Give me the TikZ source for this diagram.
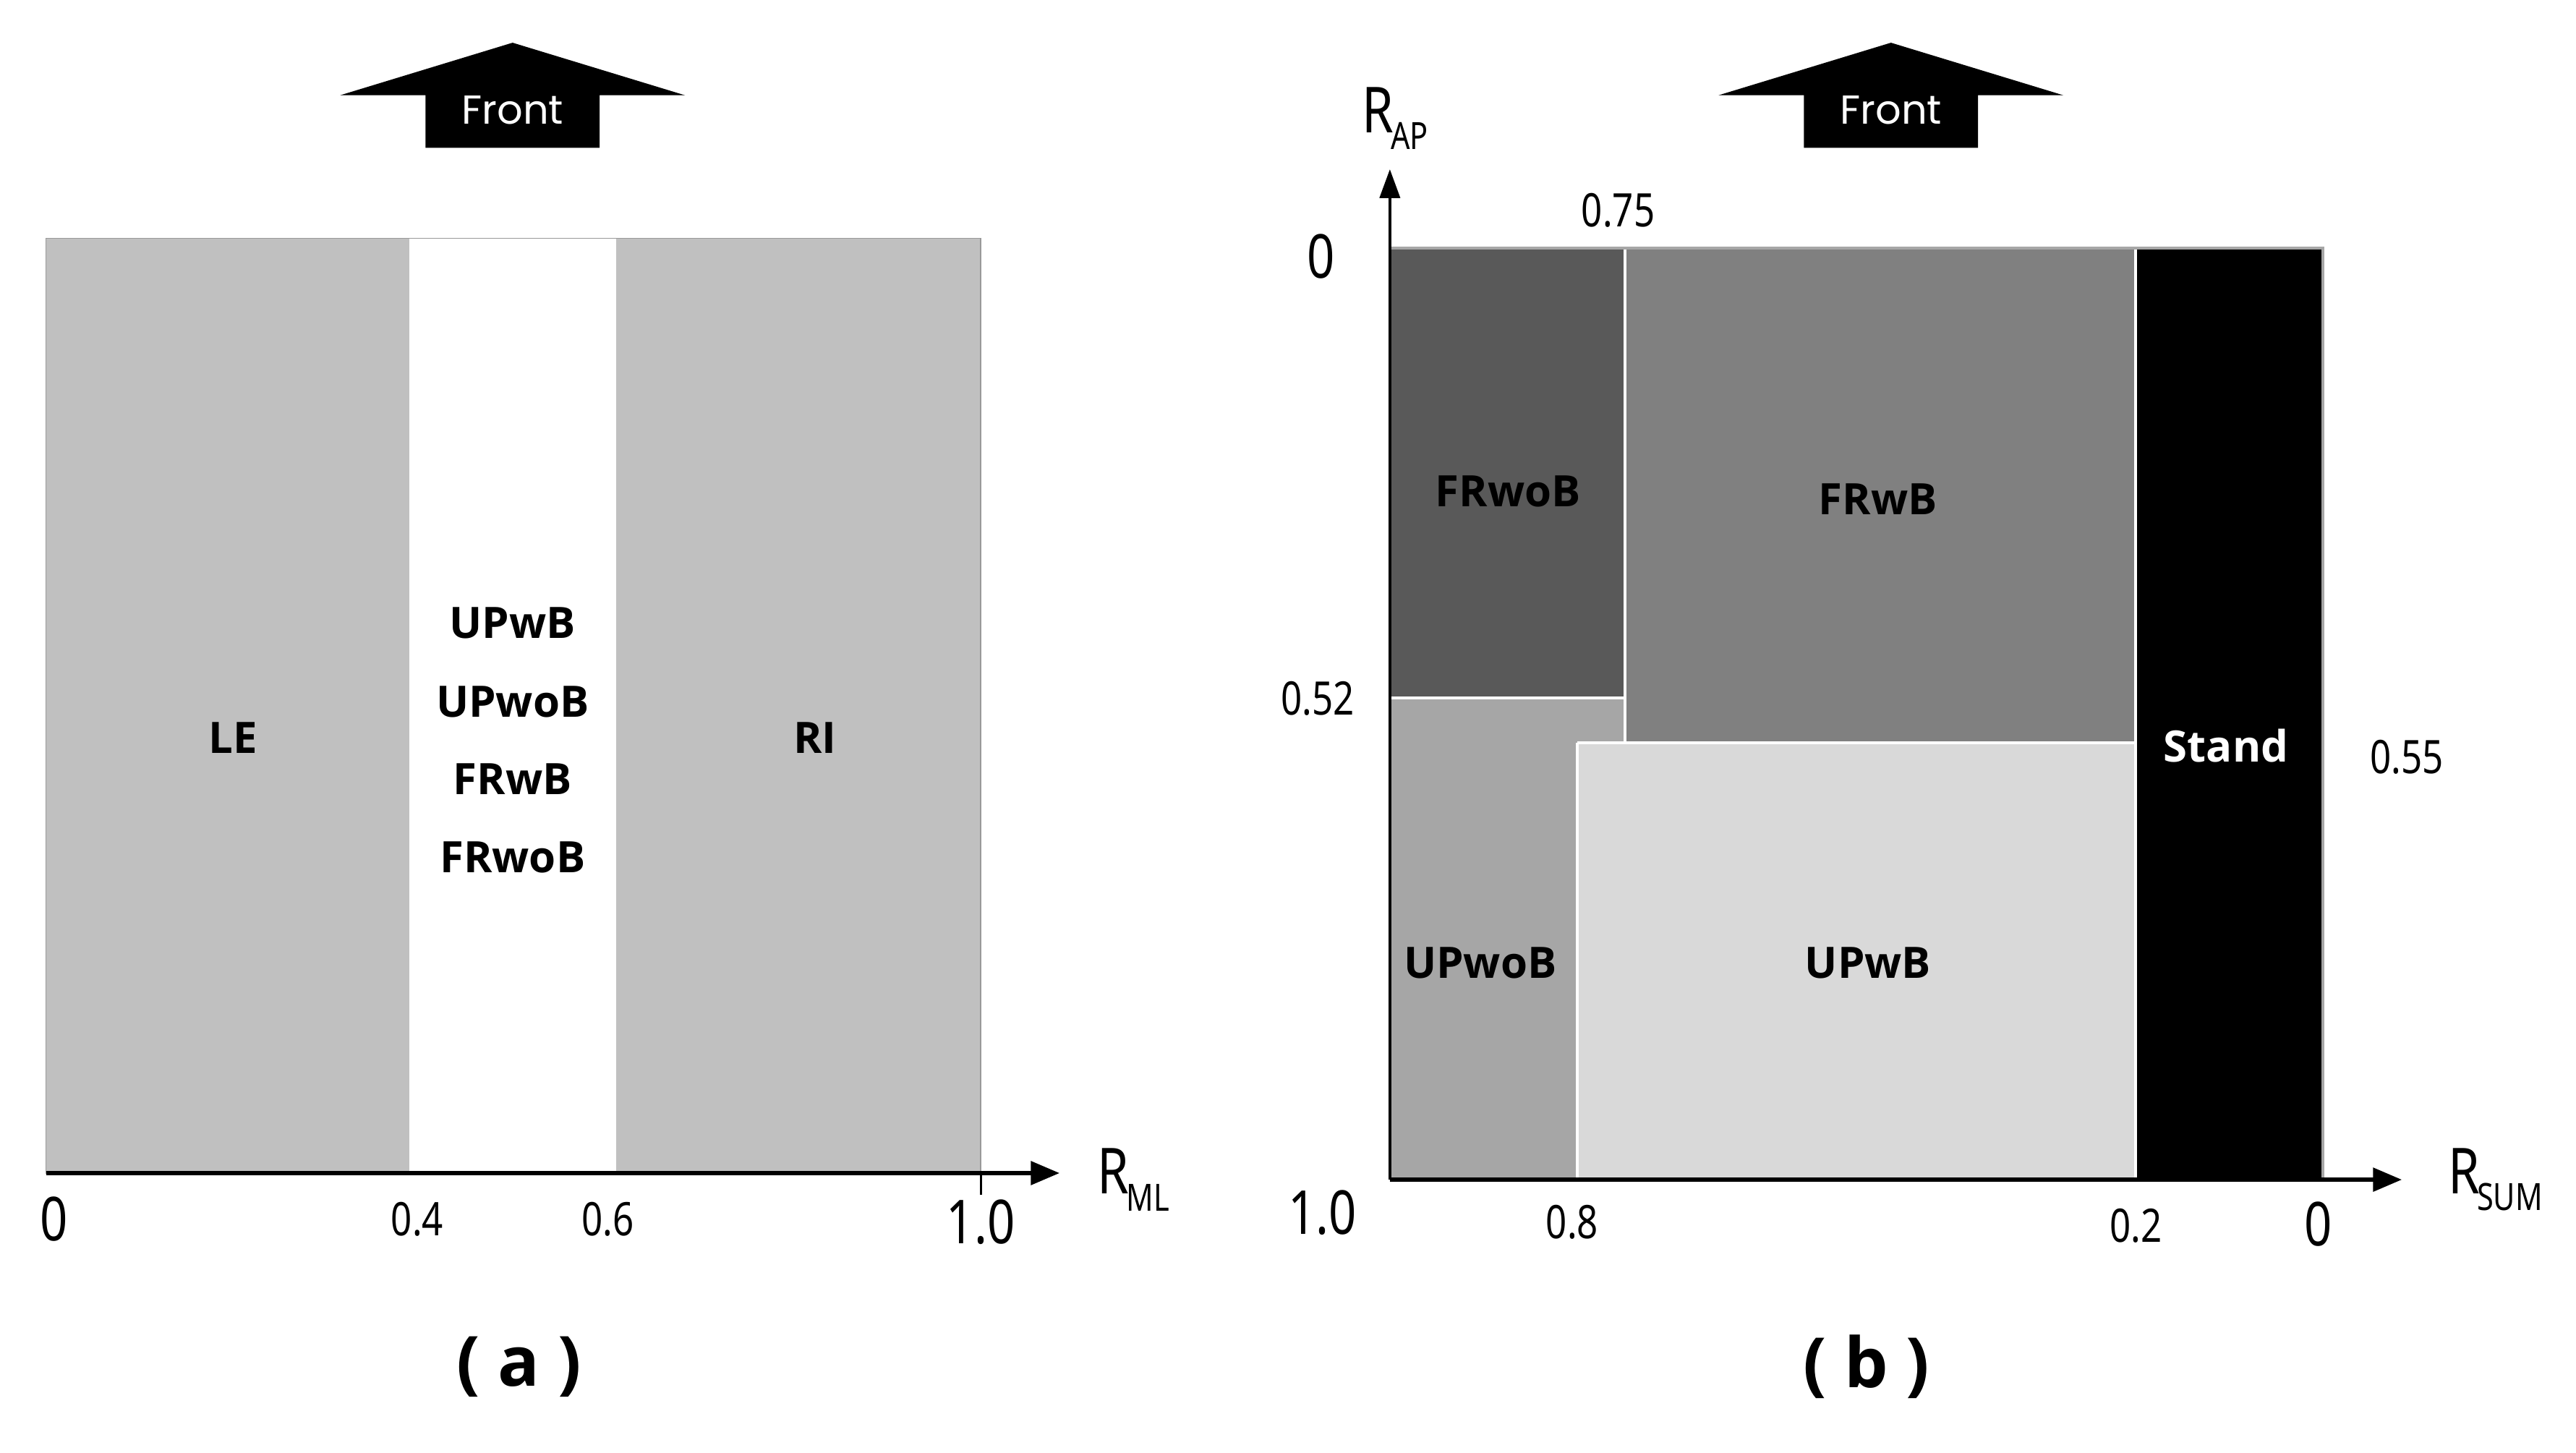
\documentclass[tikz,border=0pt]{standalone}
\usepackage{fontspec}
\setmainfont{Open Sans}
\newfontfamily\frontfont{Poppins}
\newfontfamily\numfont[FakeStretch=0.8]{Noto Sans}
\usepackage{xcolor}
\usetikzlibrary{arrows.meta}

\definecolor{sidegray}{HTML}{C0C0C0}
\definecolor{frwobgray}{HTML}{595959}
\definecolor{frwbgray}{HTML}{808080}
\definecolor{upwobgray}{HTML}{A6A6A6}
\definecolor{upwbgray}{HTML}{D9D9D9}

\begin{document}
\begin{tikzpicture}[x=0.02cm,y=-0.02cm,
    lbl/.style={font=\bfseries\fontsize{15}{15}\selectfont},
    num/.style={font=\numfont\fontsize{16}{16}\selectfont},
    bignum/.style={font=\numfont\fontsize{21}{21}\selectfont},
    axislbl/.style={font=\numfont\fontsize{22}{22}\selectfont, anchor=west},
    axis/.style={line width=1.6pt, -{Triangle[length=10pt,width=8pt]}},
    caption/.style={font=\bfseries\fontsize{24}{24}\selectfont}]
    \useasboundingbox (0,0) rectangle (1568,884);

    % Front arrows
    \foreach \cx/\nm in {312/fronta, 1151/frontb} {
        \fill[black] (\cx-105,58) -- (\cx,26) -- (\cx+105,58) -- (\cx+53,58)
            -- (\cx+53,90) -- (\cx-53,90) -- (\cx-53,58) -- cycle;
        \node[white, font=\frontfont\fontsize{14}{14}\selectfont] (\nm) at (\cx,67) {Front};
    }

    % Panel (a)
    \fill[sidegray] (28,145) rectangle (249,714);
    \fill[sidegray] (375,145) rectangle (597,714);
    \draw[gray!80] (28,145) rectangle (597,714);
    \node[lbl] (le) at (142,449) {LE};
    \node[lbl] (ri) at (496,449) {RI};
    \node[lbl] (mid1) at (312,379) {UPwB};
    \node[lbl] (mid2) at (312,427) {UPwoB};
    \node[lbl] (mid3) at (312,474) {FRwB};
    \node[lbl] (mid4) at (312,522) {FRwoB};

    \coordinate (a-origin) at (28,714);
    \coordinate (a-tip) at (645,714);
    \coordinate (a-tick) at (597,714);
    \coordinate (a-tickend) at (597,727);
    \draw[axis] (a-origin) -- (a-tip);
    \draw[line width=0.8pt] (a-tick) -- (a-tickend);
    \node[axislbl] (rml) at (662,718) {R\kern-1pt\raisebox{-0.5ex}{\fontsize{13}{13}\selectfont ML}};

    \node[bignum] (a0) at (33,742) {0};
    \node[num] (a04) at (254,742) {0.4};
    \node[num] (a06) at (370,742) {0.6};
    \node[bignum] (a10) at (597,744) {1.0};

    \node[caption] (capa) at (316,832) {( a )};

    % Panel (b)
    \fill[frwobgray] (846,151) rectangle (989,425);
    \fill[frwbgray] (989,151) rectangle (1300,452);
    \fill[upwobgray] (846,425) -- (989,425) -- (989,452) -- (960,452)
        -- (960,718) -- (846,718) -- cycle;
    \fill[upwbgray] (960,452) rectangle (1300,718);
    \fill[black] (1300,151) rectangle (1414,718);
    \draw[white, line width=1pt] (846,425) -- (989,425);
    \draw[white, line width=1pt] (989,151) -- (989,452);
    \draw[white, line width=1pt] (960,452) -- (1300,452);
    \draw[white, line width=1pt] (960,452) -- (960,718);
    \draw[white, line width=1pt] (1300,151) -- (1300,718);
    \draw[gray!70, line width=1pt] (846,151) -- (1414,151) -- (1414,718);

    \node[lbl] (frwob) at (918,299) {FRwoB};
    \node[lbl] (frwb) at (1143,304) {FRwB};
    \node[lbl] (upwob) at (901,586) {UPwoB};
    \node[lbl] (upwb) at (1137,586) {UPwB};
    \node[lbl, white] (stand) at (1355,454) {Stand};

    \coordinate (b-origin) at (846,718);
    \coordinate (b-xtip) at (1462,718);
    \coordinate (b-ytip) at (846,103);
    \draw[axis] (b-origin) -- (b-xtip);
    \draw[line width=1.1pt, -{Triangle[length=10pt,width=7pt]}] (b-origin) -- (b-ytip);
    \node[axislbl] (rsum) at (1484,718) {R\kern-1pt\raisebox{-0.5ex}{\fontsize{13}{13}\selectfont SUM}};
    \node[axislbl] (rap) at (823,72) {R\kern-1pt\raisebox{-0.5ex}{\fontsize{13}{13}\selectfont AP}};

    \node[bignum] (b0top) at (804,156) {0};
    \node[num] (b075) at (985,128) {0.75};
    \node[num] (b052) at (802,425) {0.52};
    \node[num] (b055) at (1465,461) {0.55};
    \node[bignum] (b10) at (805,738) {1.0};
    \node[num] (b08) at (957,744) {0.8};
    \node[num] (b02) at (1300,746) {0.2};
    \node[bignum] (b0) at (1411,745) {0};

    \node[caption] (capb) at (1136,832) {( b )};
\end{tikzpicture}
\end{document}
